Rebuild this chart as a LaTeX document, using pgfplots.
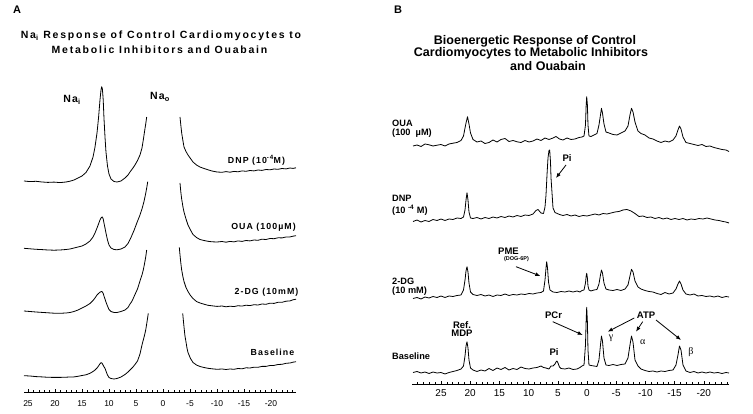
\documentclass[border=0pt]{standalone}
\usepackage{pgfplots}
\pgfplotsset{compat=1.18}
\usepackage{fontspec}
\setmainfont{Liberation Sans}
\newfontfamily\spaced[LetterSpace=12]{Liberation Sans}
\newfontfamily\widespaced[LetterSpace=17]{Liberation Sans}
\newfontfamily\greek{Liberation Serif}
\usetikzlibrary{arrows.meta}

\begin{document}
\begin{tikzpicture}
\useasboundingbox (0pt,0pt) rectangle (753pt,414pt);

\pgfplotsset{
  spectrum/.style={
    scale only axis,
    x dir=reverse, y dir=reverse,
    axis x line=bottom, axis y line=none,
    axis line style={-, line width=0.6pt},
    tick align=inside,
    major tick length=3.2pt, minor tick length=2pt,
    tick style={line width=0.5pt, black},
    xtick={-20,-15,...,25},
    minor xtick={-24,-23,...,29},
    /pgf/number format/assume math mode=true,
    no markers,
  },
  trace/.style={black, line width=0.8pt, line join=round},
}

% === Panel A: 23Na spectra ===
\begin{axis}[spectrum,
  at={(24pt,21.5pt)}, anchor=south west,
  width=272pt, height=312.5pt,
  xmin=-24.63, xmax=25.74,
  ymin=80, ymax=392.5,
  xticklabel style={font=\fontsize{8.5}{10}\selectfont, yshift=-5pt},
]
% DNP
\addplot[trace] coordinates {(25.74,181.0) (24.63,181.6) (23.52,181.3) (22.41,182.0) (21.30,182.4) (20.19,182.1) (19.07,182.6) (17.96,182.0) (17.22,181.2) (16.48,180.0) (15.74,178.0) (15.00,176.0) (14.26,172.5) (13.52,166.0) (12.96,157.0) (12.59,147.0) (12.22,133.0) (11.94,118.0) (11.67,100.0) (11.48,90.0) (11.35,86.7) (11.22,89.0) (11.07,100.0) (10.93,118.0) (10.74,137.0) (10.56,152.0) (10.28,166.0) (10.00,174.0) (9.63,179.0) (9.07,181.5) (8.52,182.0) (7.78,181.0) (7.04,178.0) (6.48,175.0) (6.11,172.0) (5.56,168.0) (5.19,165.0) (4.72,160.5) (4.26,155.0) (3.89,148.0) (3.65,140.0) (3.43,132.0) (3.20,124.0) (3.02,117.0)};
\addplot[trace] coordinates {(-3.15,117.0) (-3.30,125.0) (-3.46,133.0) (-3.70,141.0) (-3.89,147.0) (-4.26,151.5) (-4.63,155.0) (-5.09,158.5) (-5.56,162.0) (-6.20,165.0) (-6.85,167.0) (-7.59,168.5) (-8.33,169.8) (-9.07,171.0) (-10.00,172.0) (-10.93,172.3) (-11.67,171.6) (-12.41,172.2) (-13.15,171.4) (-13.89,171.8) (-14.63,170.9) (-15.37,171.3) (-16.11,170.5) (-16.85,170.9) (-17.59,170.0) (-18.33,170.4) (-19.07,169.5) (-19.81,169.8) (-20.56,169.0) (-21.30,169.3) (-22.04,168.5) (-22.78,168.9) (-23.52,168.0) (-24.07,168.4) (-24.63,167.8)};
% OUA
\addplot[trace] coordinates {(25.74,248.3) (24.63,248.8) (23.52,249.3) (22.41,249.6) (21.30,250.0) (20.19,250.2) (19.07,250.0) (17.96,249.5) (17.22,249.0) (16.48,248.0) (15.74,247.0) (15.00,246.0) (14.26,244.0) (13.52,241.0) (12.96,237.0) (12.59,233.0) (12.22,228.0) (11.94,224.0) (11.67,220.0) (11.48,218.0) (11.35,217.2) (11.22,217.0) (11.07,219.0) (10.93,223.0) (10.74,228.0) (10.56,233.0) (10.28,240.0) (10.00,245.0) (9.63,248.0) (9.07,249.5) (8.52,249.8) (7.78,249.0) (7.04,247.0) (6.48,243.5) (5.93,237.5) (5.37,230.5) (4.81,222.5) (4.26,215.0) (3.89,209.0) (3.52,201.5) (3.24,194.5) (3.00,187.5) (2.83,181.7)};
\addplot[trace] coordinates {(-3.15,183.0) (-3.30,192.0) (-3.46,199.0) (-3.70,207.0) (-3.89,212.0) (-4.26,219.0) (-4.63,225.0) (-5.09,230.0) (-5.56,234.5) (-6.20,237.5) (-6.85,239.5) (-7.59,240.5) (-8.33,241.3) (-9.07,241.8) (-10.00,242.0) (-10.93,241.5) (-11.67,242.2) (-12.41,241.4) (-13.15,241.9) (-13.89,240.9) (-14.63,241.4) (-15.37,240.5) (-16.11,240.9) (-16.85,240.0) (-17.59,240.3) (-18.33,239.2) (-19.07,239.5) (-19.81,238.5) (-20.56,238.7) (-21.30,237.8) (-22.04,237.9) (-22.78,237.0) (-23.52,236.9) (-24.07,236.2) (-24.63,235.7)};
% 2-DG
\addplot[trace] coordinates {(25.74,311.0) (24.63,311.5) (23.52,312.0) (22.41,312.4) (21.30,312.8) (20.19,313.2) (19.07,313.3) (17.96,313.0) (17.22,312.5) (16.48,311.5) (15.74,310.0) (15.00,308.0) (14.26,306.0) (13.52,303.5) (12.96,300.5) (12.59,298.0) (12.22,295.0) (11.94,293.5) (11.67,292.2) (11.48,291.7) (11.35,291.5) (11.22,292.0) (11.07,293.5) (10.93,296.0) (10.74,299.0) (10.56,302.0) (10.28,306.0) (10.00,309.5) (9.63,311.5) (9.07,312.5) (8.52,312.5) (7.78,311.5) (7.04,310.0) (6.48,307.5) (6.11,304.0) (5.80,301.7) (5.56,299.0) (5.19,294.5) (4.72,289.0) (4.26,281.0) (3.89,275.0) (3.65,270.0) (3.43,264.0) (3.20,257.0) (3.02,250.0)};
\addplot[trace] coordinates {(-3.02,247.3) (-3.15,255.0) (-3.30,263.0) (-3.46,270.0) (-3.70,277.0) (-3.89,281.5) (-4.26,287.5) (-4.63,291.5) (-5.09,295.5) (-5.56,298.5) (-6.20,301.5) (-6.85,303.0) (-7.59,304.2) (-8.33,305.3) (-9.07,305.8) (-10.00,306.4) (-10.93,306.0) (-11.67,306.8) (-12.41,306.2) (-13.15,306.6) (-13.89,305.7) (-14.63,306.1) (-15.37,305.2) (-16.11,305.6) (-16.85,304.7) (-17.59,305.0) (-18.33,304.0) (-19.07,304.3) (-19.81,303.2) (-20.56,303.4) (-21.30,302.3) (-22.04,302.3) (-22.78,301.2) (-23.52,300.9) (-24.07,299.8) (-24.63,299.2)};
% Baseline
\addplot[trace] coordinates {(25.74,375.7) (24.63,376.0) (23.52,376.6) (22.41,376.9) (21.30,377.3) (20.19,377.4) (19.07,377.4) (17.96,377.2) (17.22,377.0) (16.48,376.9) (15.74,376.3) (15.00,375.5) (14.26,374.8) (13.52,373.3) (12.96,371.5) (12.59,370.0) (12.22,368.0) (11.94,366.0) (11.67,363.8) (11.48,362.7) (11.35,362.8) (11.22,363.8) (11.07,365.3) (10.93,366.8) (10.74,368.3) (10.56,371.0) (10.28,375.0) (10.00,377.5) (9.63,378.5) (9.07,379.0) (8.52,378.5) (7.78,377.0) (7.04,374.5) (6.48,372.0) (6.11,370.0) (5.56,367.0) (5.19,364.5) (4.72,361.0) (4.26,354.0) (3.89,345.0) (3.65,340.0) (3.43,335.5) (3.20,330.0) (3.02,324.0) (2.72,313.3)};
\addplot[trace] coordinates {(-3.65,313.3) (-3.80,322.0) (-3.89,327.0) (-4.07,336.0) (-4.26,342.0) (-4.44,348.0) (-4.63,352.5) (-5.09,358.5) (-5.56,362.5) (-6.20,365.0) (-6.85,366.5) (-7.59,367.5) (-8.33,368.3) (-9.07,368.8) (-10.00,369.3) (-10.93,369.0) (-11.67,369.5) (-12.41,369.0) (-13.15,369.3) (-13.89,368.5) (-14.63,368.8) (-15.37,367.8) (-16.11,368.0) (-16.85,367.2) (-17.59,367.3) (-18.33,366.4) (-19.07,366.4) (-19.81,365.5) (-20.56,365.4) (-21.30,364.5) (-22.04,364.3) (-22.78,363.3) (-23.52,363.0) (-24.07,362.2) (-24.63,361.7)};
\end{axis}

% === Panel B: 31P spectra ===
\begin{axis}[spectrum,
  at={(412pt,30pt)}, anchor=south west,
  width=317pt, height=294pt,
  xmin=-24.32, xmax=29.97,
  ymin=90, ymax=384,
  xticklabel style={font=\fontsize{10}{12}\selectfont, yshift=-2pt},
]
% OUA
\addplot[trace] coordinates {(29.79,146.0) (29.11,145.0) (28.42,146.5) (27.74,144.0) (27.05,144.8) (26.37,146.0) (25.68,145.2) (25.00,144.5) (24.32,146.0) (23.63,144.0) (22.95,143.2) (22.26,142.5) (21.58,140.5) (21.15,136.0) (20.89,128.0) (20.72,123.0) (20.46,116.7) (20.21,124.0) (19.95,133.0) (19.52,139.5) (18.84,142.0) (18.15,141.0) (17.47,143.5) (16.78,142.5) (16.10,140.0) (15.41,142.0) (14.73,139.5) (14.04,138.5) (13.36,141.5) (12.67,140.5) (11.99,141.8) (11.30,142.5) (10.62,140.5) (9.93,142.0) (9.25,141.0) (8.56,139.0) (7.88,140.5) (7.19,138.0) (6.51,139.5) (5.82,138.0) (5.31,136.5) (4.71,139.0) (4.11,140.0) (3.42,138.0) (2.74,139.5) (2.05,139.0) (1.37,137.5) (0.86,137.0) (0.51,136.0) (0.26,125.0) (0.14,105.0) (0.05,96.7) (-0.07,105.0) (-0.17,125.0) (-0.34,136.0) (-0.68,136.5) (-1.20,135.0) (-1.71,133.5) (-2.05,125.0) (-2.31,115.0) (-2.48,108.3) (-2.65,113.0) (-2.91,124.0) (-3.25,132.0) (-3.77,133.0) (-4.45,134.5) (-5.14,135.0) (-5.82,133.0) (-6.51,131.0) (-7.02,126.0) (-7.36,115.0) (-7.62,108.3) (-7.88,112.0) (-8.22,122.0) (-8.73,131.0) (-9.25,133.5) (-9.93,135.0) (-10.62,138.0) (-11.30,139.0) (-11.99,141.0) (-12.67,142.5) (-13.36,141.0) (-14.04,142.0) (-14.73,140.0) (-15.24,136.0) (-15.58,130.0) (-15.84,126.0) (-16.10,129.0) (-16.44,137.0) (-16.95,142.5) (-17.64,143.5) (-18.32,144.5) (-19.01,145.5) (-19.69,144.5) (-20.38,146.5) (-21.06,146.0) (-21.75,147.5) (-22.43,148.5) (-23.12,149.5) (-23.80,150.0) (-24.32,151.5)};
% DNP
\addplot[trace] coordinates {(29.79,221.5) (29.11,220.0) (28.42,222.0) (27.74,220.5) (27.05,221.5) (26.37,219.5) (25.68,220.5) (25.00,219.0) (24.32,220.5) (23.63,219.0) (22.95,219.5) (22.26,218.0) (21.58,218.5) (21.15,217.0) (20.89,210.0) (20.72,200.0) (20.55,192.7) (20.38,200.0) (20.21,212.0) (19.95,218.0) (19.52,218.5) (18.84,217.5) (18.15,219.0) (17.47,217.5) (16.78,218.5) (16.10,217.0) (15.41,218.0) (14.73,216.5) (14.04,217.5) (13.36,216.0) (12.67,217.0) (11.99,215.5) (11.30,216.5) (10.62,215.0) (9.93,215.5) (9.25,214.0) (8.73,210.5) (8.39,209.5) (7.88,213.0) (7.45,213.5) (7.19,207.0) (7.02,195.0) (6.85,175.0) (6.68,158.0) (6.51,150.5) (6.39,150.0) (6.25,162.0) (6.16,178.0) (5.82,208.0) (5.48,212.5) (4.71,214.5) (4.11,215.5) (3.42,214.5) (2.74,216.0) (2.05,215.0) (1.37,216.5) (0.68,215.5) (0.00,216.0) (-0.68,215.0) (-1.37,214.0) (-2.05,215.0) (-2.74,213.5) (-3.42,214.0) (-4.11,213.0) (-4.79,212.0) (-5.48,211.5) (-6.16,210.0) (-6.85,209.5) (-7.53,211.0) (-8.22,213.5) (-8.90,216.5) (-9.59,216.0) (-10.27,217.5) (-10.96,217.0) (-11.64,218.5) (-12.33,217.5) (-13.01,219.0) (-13.70,218.0) (-14.38,219.5) (-15.07,218.5) (-15.75,219.5) (-16.44,218.5) (-17.12,220.0) (-17.81,219.0) (-18.49,219.5) (-19.18,218.5) (-19.86,219.0) (-20.55,218.0) (-21.23,219.0) (-21.92,220.0) (-22.60,220.5) (-23.29,221.5) (-23.80,222.0) (-24.32,223.0)};
% 2-DG
\addplot[trace] coordinates {(29.79,298.5) (29.11,297.5) (28.42,299.0) (27.74,297.0) (27.05,298.0) (26.37,296.5) (25.68,297.5) (25.00,296.0) (24.32,297.5) (23.63,296.0) (22.95,296.5) (22.26,295.5) (21.58,295.0) (21.15,290.0) (20.89,280.0) (20.72,271.0) (20.55,266.7) (20.38,272.0) (20.21,283.0) (19.95,292.0) (19.52,294.5) (18.84,295.5) (18.15,294.5) (17.47,296.0) (16.78,295.0) (16.10,296.5) (15.41,295.0) (14.73,295.5) (14.04,294.0) (13.36,295.5) (12.67,294.5) (11.99,295.0) (11.30,294.0) (10.62,294.5) (9.93,293.5) (9.25,294.0) (8.56,293.0) (7.88,292.5) (7.45,291.0) (7.19,280.0) (7.02,268.0) (6.90,261.7) (6.76,268.0) (6.59,282.0) (6.34,290.0) (5.82,292.0) (5.14,292.5) (4.45,291.5) (3.77,292.0) (3.08,291.0) (2.40,292.0) (1.71,291.0) (1.20,292.0) (0.86,290.5) (0.51,290.0) (0.26,283.0) (0.14,276.0) (0.05,273.3) (-0.07,278.0) (-0.17,286.0) (-0.34,290.0) (-0.68,291.0) (-1.20,290.0) (-1.71,289.5) (-2.05,284.0) (-2.31,275.0) (-2.48,270.0) (-2.65,273.0) (-2.91,283.0) (-3.25,289.0) (-3.77,290.0) (-4.45,290.5) (-5.14,289.5) (-5.82,290.5) (-6.51,289.0) (-7.02,285.0) (-7.36,276.0) (-7.62,269.3) (-7.88,272.0) (-8.22,281.0) (-8.73,287.0) (-9.25,289.0) (-9.93,290.5) (-10.62,291.5) (-11.30,292.0) (-11.99,293.5) (-12.67,294.5) (-13.36,292.5) (-14.04,294.0) (-14.73,293.0) (-15.24,289.0) (-15.58,284.0) (-15.84,281.0) (-16.10,284.0) (-16.44,290.0) (-16.95,294.0) (-17.64,295.0) (-18.32,294.0) (-19.01,296.0) (-19.69,295.5) (-20.38,296.5) (-21.06,296.0) (-21.75,297.0) (-22.43,296.0) (-23.12,297.5) (-23.80,296.5) (-24.32,297.0)};
% Baseline
\addplot[trace] coordinates {(29.79,372.5) (29.11,371.5) (28.42,373.0) (27.74,372.0) (27.05,373.5) (26.37,372.0) (25.68,373.0) (25.00,372.5) (24.32,374.0) (23.63,372.5) (22.95,371.5) (22.26,370.5) (21.58,369.0) (21.15,366.0) (20.89,356.0) (20.72,346.0) (20.55,341.7) (20.38,348.0) (20.21,360.0) (19.95,368.0) (19.52,370.0) (18.84,371.5) (18.15,370.0) (17.47,371.0) (16.78,368.5) (16.10,370.5) (15.41,368.0) (14.73,369.5) (14.04,367.5) (13.36,370.0) (12.67,368.5) (11.99,369.5) (11.30,367.0) (10.62,368.5) (9.93,369.0) (9.25,368.0) (8.56,367.5) (7.88,366.0) (7.45,367.5) (7.02,368.0) (6.51,369.0) (6.16,366.0) (5.82,366.0) (5.48,364.0) (5.31,362.0) (5.14,361.0) (4.97,363.0) (4.71,367.0) (4.45,368.5) (3.77,369.0) (3.08,368.0) (2.40,369.5) (1.71,369.0) (1.20,367.5) (0.86,366.0) (0.51,365.0) (0.26,345.0) (0.14,320.0) (0.05,307.3) (-0.07,322.0) (-0.17,350.0) (-0.34,365.0) (-0.68,365.5) (-1.20,366.0) (-1.71,366.5) (-2.05,360.0) (-2.31,345.0) (-2.48,336.0) (-2.65,341.0) (-2.91,358.0) (-3.25,365.0) (-3.77,365.5) (-4.45,364.5) (-5.14,365.5) (-5.82,364.5) (-6.51,364.0) (-7.02,358.0) (-7.36,345.0) (-7.62,336.0) (-7.88,342.0) (-8.22,360.0) (-8.73,366.0) (-9.25,369.0) (-9.93,370.5) (-10.62,371.5) (-11.30,371.0) (-11.99,372.0) (-12.67,371.0) (-13.36,371.5) (-14.04,370.5) (-14.73,370.0) (-15.24,365.0) (-15.58,355.0) (-15.84,346.0) (-16.10,350.0) (-16.44,365.0) (-16.95,371.0) (-17.64,372.5) (-18.32,371.5) (-19.01,373.0) (-19.69,372.0) (-20.38,373.0) (-21.06,372.0) (-21.75,373.0) (-22.43,372.5) (-23.12,373.5) (-23.80,372.5) (-24.32,373.0)};
\end{axis}

% --- Panel A text ---
\node[font=\bfseries\fontsize{11}{13}\selectfont] at (17pt,404pt) {A};
\node[font=\widespaced\bfseries\fontsize{10.5}{12}\selectfont] at (161pt,378.3pt) {Na\textsubscript{i} Response of Control Cardiomyocytes to};
\node[font=\widespaced\bfseries\fontsize{10.5}{12}\selectfont] at (159.5pt,364pt) {Metabolic Inhibitors and Ouabain};
\node[font=\spaced\bfseries\fontsize{10.5}{12}\selectfont] at (72pt,314pt) {Na\textsubscript{i}};
\node[font=\spaced\bfseries\fontsize{10.5}{12}\selectfont] at (160pt,317pt) {Na\textsubscript{o}};
\begin{scope}[every node/.style={font=\spaced\bfseries\fontsize{8.8}{10}\selectfont}]
\node at (256.5pt,254pt) {DNP (10\textsuperscript{-4}M)};
\node at (263.5pt,186.3pt) {OUA (100µM)};
\node at (266.5pt,121.3pt) {2-DG (10mM)};
\node at (272.5pt,62pt) {Baseline};
\end{scope}

% --- Panel B text ---
\node[font=\bfseries\fontsize{11}{13}\selectfont] at (398pt,404pt) {B};
\begin{scope}[every node/.style={font=\bfseries\fontsize{12.5}{14}\selectfont}]
\node at (535pt,372.3pt) {Bioenergetic Response of Control};
\node at (531pt,360.7pt) {Cardiomyocytes to Metabolic Inhibitors};
\node at (548pt,348.3pt) {and Ouabain};
\end{scope}
\begin{scope}[every node/.style={font=\bfseries\fontsize{9.2}{11}\selectfont, anchor=west, inner sep=0pt}]
\node at (392pt,291pt) {OUA};
\node at (392pt,281pt) {(100 \ µM)};
\node at (392pt,216pt) {DNP};
\node at (392pt,204pt) {(10 \textsuperscript{-4} M)};
\node at (392pt,133pt) {2-DG};
\node at (392pt,123.3pt) {(10 mM)};
\node at (392pt,57.3pt) {Baseline};
\end{scope}
\begin{scope}[every node/.style={font=\bfseries\fontsize{9.5}{11}\selectfont, inner sep=0pt}]
\node at (462pt,89pt) {Ref.};
\node at (462pt,80.7pt) {MDP};
\node at (554pt,62.3pt) {Pi};
\node at (567pt,256pt) {Pi};
\node at (508.5pt,162.3pt) {PME};
\node[font=\bfseries\fontsize{5.5}{6}\selectfont] at (516.5pt,155pt) {(DOG-6P)};
\node at (553.5pt,99pt) {PCr};
\node at (646pt,99pt) {ATP};
\end{scope}
\node[font=\greek\fontsize{10}{11}\selectfont, inner sep=0pt] at (611pt,75.7pt) {γ};
\node[font=\greek\fontsize{10}{11}\selectfont, inner sep=0pt] at (642.7pt,72.3pt) {α};
\node[font=\greek\fontsize{10}{11}\selectfont, inner sep=0pt] at (691pt,62.3pt) {β};
\begin{scope}[line width=0.8pt, -{Latex[length=5pt,width=4pt]}]
\draw (566pt,249pt) -- (556pt,236pt);
\draw (516pt,147.3pt) -- (540.3pt,138pt);
\draw (552.7pt,92.3pt) -- (582.7pt,79pt);
\draw (634.3pt,96pt) -- (607.7pt,82.3pt);
\draw (642.7pt,92.3pt) -- (636pt,82.3pt);
\draw (656pt,94pt) -- (681pt,74pt);
\end{scope}
\end{tikzpicture}
\end{document}
